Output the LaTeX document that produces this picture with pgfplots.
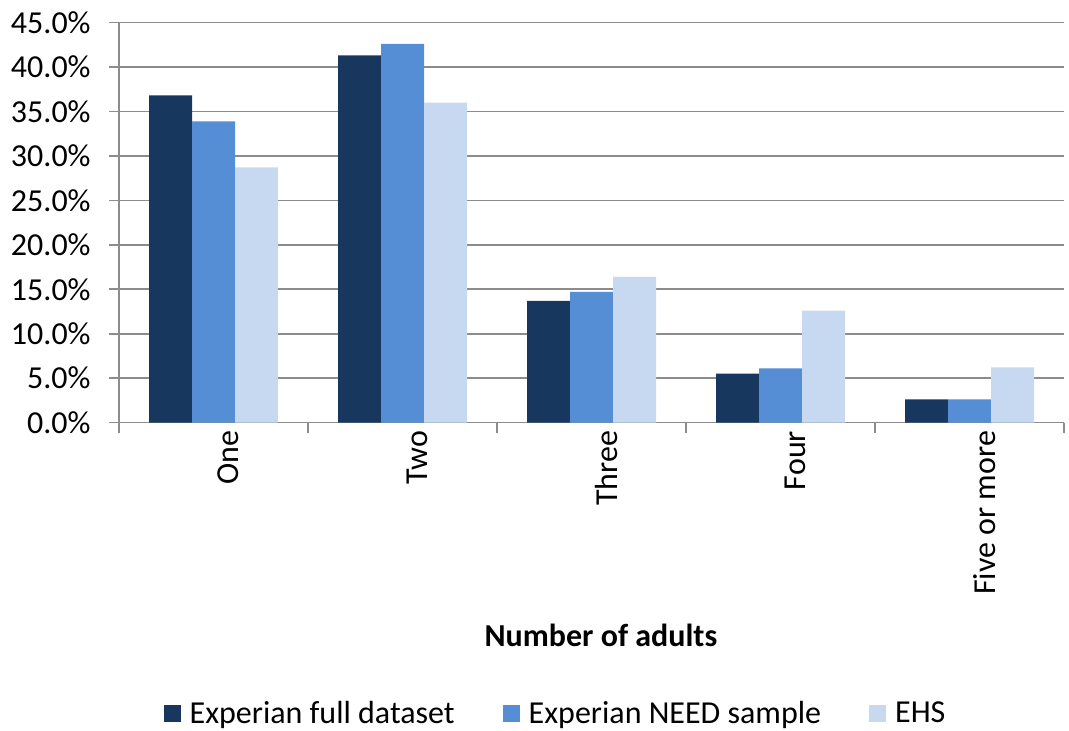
\documentclass[border=0pt]{standalone}
\usepackage{pgfplots}
\pgfplotsset{compat=1.18}
\usepackage{fontspec}
\setmainfont{Carlito}
\definecolor{cdark}{HTML}{18375F}
\definecolor{cmed}{HTML}{558ED5}
\definecolor{clight}{HTML}{C6D9F1}
\definecolor{cgrid}{HTML}{8C8C8C}
\newcommand{\cf}{\fontsize{16}{19}\selectfont}
\begin{document}
\begin{tikzpicture}
\useasboundingbox (0,0) rectangle (534.5pt,365.5pt);
\begin{axis}[
  at={(59.5pt,154.2pt)}, anchor=south west,
  scale only axis, width=472.5pt, height=200pt,
  xmin=-0.5, xmax=4.5, ymin=0, ymax=45,
  axis lines*=left,
  axis line style={cgrid, line width=0.8pt},
  ybar=0pt, bar width=0.2275,
  xtick={0,1,2,3,4},
  xticklabels={One,Two,Three,Four,Five or more},
  minor xtick={-0.5,0.5,1.5,2.5,3.5,4.5},
  major x tick style={draw=none},
  minor x tick style={cgrid, line width=0.8pt},
  ytick={0,5,...,45},
  y tick style={cgrid, line width=0.8pt},
  tick align=outside, major tick length=5pt, minor tick length=5pt,
  ymajorgrids, grid style={cgrid, line width=0.8pt},
  /pgf/number format/assume math mode=true,
  yticklabel={\pgfmathprintnumber[fixed,fixed zerofill,precision=1]{\tick}\%},
  yticklabel style={font=\cf, inner sep=0pt, xshift=-9pt, anchor=east},
  xticklabel style={font=\cf, rotate=90, anchor=east, inner sep=0pt, yshift=-7.5pt, xshift=1pt},
  xlabel={\textbf{Number of adults}},
  xlabel style={font=\cf, at={(axis description cs:0.51,-0.533)}, anchor=center},
  legend columns=3,
  legend style={draw=none, font=\cf, at={(axis description cs:0.463,-0.728)}, anchor=center,
    /tikz/every even column/.append style={column sep=22pt}},
  legend image code/.code={\fill[#1] (0pt,-4.25pt) rectangle (8.5pt,4.25pt); \path (11pt,0pt);},
]
\addplot[fill=cdark, draw=none, bar shift=-0.2275] coordinates {(0,36.8) (1,41.3) (2,13.7) (3,5.5) (4,2.6)};
\addplot[fill=cmed, draw=none, bar shift=0] coordinates {(0,33.9) (1,42.6) (2,14.7) (3,6.1) (4,2.6)};
\addplot[fill=clight, draw=none, bar shift=0.2275] coordinates {(0,28.7) (1,36.0) (2,16.4) (3,12.6) (4,6.2)};
\legend{Experian full dataset, Experian NEED sample, EHS}
\end{axis}
\end{tikzpicture}
\end{document}
